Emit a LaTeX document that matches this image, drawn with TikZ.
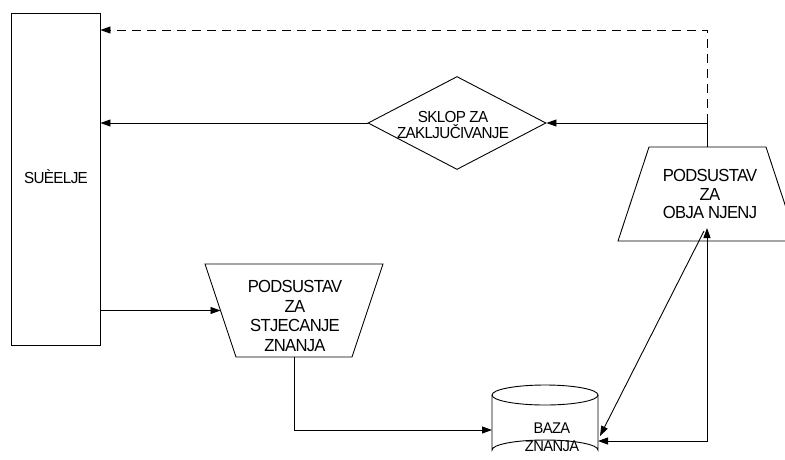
\documentclass[tikz,border=0pt]{standalone}
\usepackage{fontspec}
\setmainfont{Liberation Sans}[FakeStretch=0.95,LetterSpace=-4]
\usetikzlibrary{shapes.geometric,arrows.meta,calc}
\begin{document}
\begin{tikzpicture}[x=1pt,y=-1pt,line width=0.9pt,
  >={Triangle[length=10pt,width=7pt]},
  shp/.style={draw,inner sep=0pt},
  txt/.style={align=center,inner sep=0pt},
  bigtxt/.style={txt,font=\fontsize{17.5}{19.5}\selectfont},
  dsh/.style={dash pattern=on 9pt off 6pt}]
\useasboundingbox (0,0) rectangle (785,459);
% interface box
\node[shp,rectangle,minimum width=89,minimum height=332] (suc) at (55.5,179) {};
\node[txt,font=\fontsize{16}{18}\selectfont] (suct) at (56,177) {SUÈELJE};
% inference diamond
\node[shp,diamond,minimum width=178,minimum height=93,aspect=1.91] (dia) at (457,123) {};
\node[txt,font=\fontsize{16}{16.5}\selectfont] (diat) at (453,125) {SKLOP ZA\\ZAKLJUČIVANJE};
% knowledge acquisition trapezium
\coordinate (stjTL) at (205,264);
\coordinate (stjTR) at (383,264);
\coordinate (stjBR) at (352,357);
\coordinate (stjBL) at (236,357);
\draw (stjTL) -- (stjTR) -- (stjBR) -- (stjBL) -- cycle;
\coordinate (stjW) at ($(stjTL)!0.5!(stjBL)$);
\coordinate (stjS) at (294,357);
\node[bigtxt] (stjt) at (295,316) {PODSUSTAV\\ZA\\STJECANJE\\ZNANJA};
% explanation trapezium
\coordinate (objTL) at (649,147);
\coordinate (objTR) at (766,147);
\coordinate (objBR) at (797,241);
\coordinate (objBL) at (618,241);
\draw (objTL) -- (objTR) -- (objBR) -- (objBL) -- cycle;
\coordinate (objN) at (707.5,147);
\node[bigtxt,font=\fontsize{17.5}{18.5}\selectfont] (objt) at (710,194) {PODSUSTAV\\ZA\\OBJA NJENJ};
% knowledge base cylinder
\draw (492,395) -- (492,450) arc[start angle=180,end angle=360,x radius=53,y radius=10] -- (598,395);
\draw (545,395) ellipse[x radius=53,y radius=10];
\node[txt,font=\fontsize{15.5}{18}\selectfont] (baz) at (552,437) {BAZA\\ZNANJA};
\coordinate (bazL) at (492,430);
\coordinate (bazR) at (598,441);
\coordinate (bazD) at (600,436);
% connectors
\coordinate (j) at (objN|-dia.east);
\coordinate (d) at (objN|-0,30);
\draw (objN) -- (j);
\draw[->] (j) -- (dia.east);
\draw[dsh,->] (j) -- (d) -- (suc.east|-d);
\draw[->] (dia.west) -- (suc.east|-dia.west);
\draw[->] (suc.east|-stjW) -- (stjW);
\draw[->] (stjS) |- (bazL);
\coordinate (o1) at (704,231);
\coordinate (o2) at (707,228);
\draw[->] (o1) -- (bazD);
\draw[<->] (bazR) -| (o2);
\end{tikzpicture}
\end{document}
